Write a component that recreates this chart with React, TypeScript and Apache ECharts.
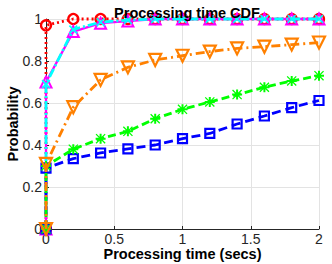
import React, { useEffect, useRef } from "react";
import * as echarts from "echarts";

const xs = [0, 0, 0.2, 0.4, 0.6, 0.8, 1.0, 1.2, 1.4, 1.6, 1.8, 2.0];
const redVals = [0, 0.97, 1.0, 1.0, 1.0, 1.0, 1.0, 1.0, 1.0, 1.0, 1.0, 1.0];
const magentaVals = [0, 0.70, 0.94, 0.98, 0.99, 1.0, 1.0, 1.0, 1.0, 1.0, 1.0, 1.0];
const cyanVals = [0, 0.69, 0.95, 0.985, 0.995, 1.0, 1.0, 1.0, 1.0, 1.0, 1.0, 1.0];
const orangeVals = [0, 0.31, 0.58, 0.71, 0.77, 0.805, 0.825, 0.845, 0.86, 0.868, 0.878, 0.888];
const greenVals = [0, 0.30, 0.38, 0.43, 0.465, 0.525, 0.57, 0.605, 0.64, 0.675, 0.705, 0.73];
const blueVals = [0, 0.29, 0.335, 0.362, 0.382, 0.40, 0.43, 0.455, 0.50, 0.538, 0.578, 0.612];
const xTicks = [0, 0.5, 1, 1.5, 2];
const yTicks = [0, 0.2, 0.4, 0.6, 0.8, 1];

const STAR =
  "path://M0 4 L10 4 L10 6 L0 6 Z M4 0 L6 0 L6 10 L4 10 Z M0.9 0 L10 9.1 L9.1 10 L0 0.9 Z M9.1 0 L10 0.9 L0.9 10 L0 9.1 Z";
const XMARK = "path://M1.3 0 L10 8.7 L8.7 10 L0 1.3 Z M8.7 0 L10 1.3 L1.3 10 L0 8.7 Z";

function pairs(vals: number[]) {
  return xs.map((x, i) => [x, vals[i]]);
}

export default function App() {
  const ref = useRef<HTMLDivElement>(null);
  useEffect(() => {
    const chart = echarts.init(ref.current!, null, { renderer: "svg" });
    const hollow = (c: string, w = 2) => ({ color: "rgba(0,0,0,0)", borderColor: c, borderWidth: w });
    chart.setOption({
      animation: false,
      title: {
        text: "Processing time CDF",
        left: 182,
        textAlign: "center",
        top: 0,
        textStyle: { fontFamily: "Liberation Sans", fontSize: 14.5, fontWeight: "bold", color: "#000" },
      },
      grid: { left: 46, right: 13, top: 19, bottom: 35, containLabel: false, outerBoundsMode: "none" },
      xAxis: {
        type: "value",
        min: 0,
        max: 2,
        interval: 0.5,
        name: "Processing time (secs)",
        nameLocation: "middle",
        nameGap: 17,
        nameMoveOverlap: false,
        nameTextStyle: { fontFamily: "Liberation Sans", fontSize: 14.5, fontWeight: "bold", color: "#000" },
        axisLine: { show: true, lineStyle: { color: "#262626", width: 1 } },
        axisTick: { show: true, inside: true, length: 3, lineStyle: { color: "#262626" } },
        axisLabel: {
          fontFamily: "Liberation Sans",
          fontSize: 14,
          color: "#262626",
          margin: 3,
          formatter: (v: number) => (xTicks.includes(v) ? String(v) : ""),
        },
        splitLine: { show: true, lineStyle: { color: "#e3e3e3", width: 1 } },
      },
      yAxis: {
        type: "value",
        min: 0,
        max: 1,
        interval: 0.2,
        name: "Probability",
        nameLocation: "middle",
        nameGap: 26,
        nameMoveOverlap: false,
        nameTextStyle: { fontFamily: "Liberation Sans", fontSize: 14.5, fontWeight: "bold", color: "#000" },
        axisLine: { show: true, lineStyle: { color: "#262626", width: 1 } },
        axisTick: { show: true, inside: true, length: 3, lineStyle: { color: "#262626" } },
        axisLabel: {
          fontFamily: "Liberation Sans",
          fontSize: 14,
          color: "#262626",
          margin: 4,
          formatter: (v: number) => {
            const t = yTicks.find((y) => Math.abs(y - v) < 1e-6);
            return t === undefined ? "" : String(t);
          },
        },
        splitLine: { show: true, lineStyle: { color: "#e3e3e3", width: 1 } },
      },
      series: [
        {
          type: "line",
          data: pairs(redVals),
          clip: false,
          symbol: "circle",
          symbolSize: 10,
          itemStyle: hollow("#ff0000", 2.3),
          lineStyle: { color: "#ff0000", width: 2.8, type: [2, 3] },
          z: 2,
        },
        {
          type: "line",
          data: pairs(magentaVals),
          clip: false,
          symbol: "triangle",
          symbolSize: 11,
          itemStyle: hollow("#ff00ff", 2),
          lineStyle: { color: "#ff00ff", width: 2.3 },
          z: 3,
        },
        {
          type: "line",
          data: pairs(cyanVals),
          clip: false,
          symbol: XMARK,
          symbolSize: 9,
          itemStyle: { color: "#00ffff" },
          lineStyle: { color: "#00ffff", width: 2.8, type: [9, 3, 2, 3] },
          z: 4,
        },
        {
          type: "line",
          data: pairs(blueVals),
          clip: false,
          symbol: "rect",
          symbolSize: 9,
          itemStyle: hollow("#0000ff", 2.2),
          lineStyle: { color: "#0000ff", width: 2.8, type: [9, 5] },
          z: 5,
        },
        {
          type: "line",
          data: pairs(greenVals),
          clip: false,
          symbol: STAR,
          symbolSize: 10,
          itemStyle: { color: "#00ff00" },
          lineStyle: { color: "#00ff00", width: 2.8, type: [8, 4] },
          z: 6,
        },
        {
          type: "line",
          data: pairs(orangeVals),
          clip: false,
          symbol: "triangle",
          symbolRotate: 180,
          symbolSize: 12,
          itemStyle: hollow("#ff8000", 2.2),
          lineStyle: { color: "#ff8000", width: 2.8, type: [9, 4, 2, 4] },
          z: 7,
        },
      ],
    });
    return () => chart.dispose();
  }, []);
  return <div ref={ref} style={{ width: 332, height: 264, position: "absolute", left: 0, top: 0 }} />;
}
